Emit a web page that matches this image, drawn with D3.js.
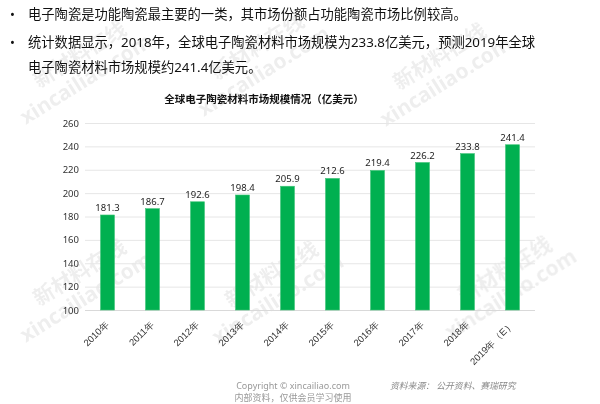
<!DOCTYPE html>
<html lang="zh">
<head>
<meta charset="UTF-8">
<title>全球电子陶瓷材料市场规模情况</title>
<script src="https://d3js.org/d3.v7.min.js"></script>
<style>
  body { margin: 0; background: #fff; }
  svg { font-family: "Noto Sans", "Noto Sans CJK SC", sans-serif; }
</style>
</head>
<body>
<div id="chart"></div>
<script>
// data
const years = ["2010年", "2011年", "2012年", "2013年", "2014年", "2015年", "2016年", "2017年", "2018年", "2019年（E）"];
const marketSize = [181.3, 186.7, 192.6, 198.4, 205.9, 212.6, 219.4, 226.2, 233.8, 241.4];
const yTicks = [100, 120, 140, 160, 180, 200, 220, 240, 260];
const bullets = [
  ["电子陶瓷是功能陶瓷最主要的一类，其市场份额占功能陶瓷市场比例较高。"],
  ["统计数据显示，2018年，全球电子陶瓷材料市场规模为233.8亿美元，预测2019年全球", "电子陶瓷材料市场规模约241.4亿美元。"]
];
const chartTitle = "全球电子陶瓷材料市场规模情况（亿美元）";
const footer = ["Copyright © xincailiao.com", "内部资料，仅供会员学习使用"];
const source = "资料来源：  公开资料、赛瑞研究";
const marks = [[80, 70], [258, 62], [440, 72], [80, 288], [272, 290], [505, 285]];

const W = 600, H = 404;
const svg = d3.select("#chart").append("svg")
    .attr("width", W)
    .attr("height", H);

// watermarks (faint)
const wm = svg.append("g").attr("fill", "#000").attr("opacity", 0.07);
marks.forEach(function (m) {
  const g = wm.append("g").attr("transform", `translate(${m[0]},${m[1]}) rotate(-32)`);
  g.append("text").attr("x", 8).attr("y", -6).attr("text-anchor", "middle")
    .attr("font-size", 21).attr("font-weight", "bold").text("新材料在线");
  g.append("text").attr("x", 0).attr("y", 18).attr("text-anchor", "middle")
    .attr("font-size", 21).attr("font-weight", "bold").text("xincailiao.com");
});

// bullet text
let lineY = 19;
bullets.forEach(function (b) {
  svg.append("text").attr("x", 10).attr("y", lineY).attr("font-size", 13).attr("fill", "#111").text("•");
  b.forEach(function (line) {
    svg.append("text").attr("x", 28).attr("y", lineY)
      .attr("font-size", 13.3).attr("fill", "#111").text(line);
    lineY += 25;
  });
  lineY += 3;
});

svg.append("text")
    .attr("x", 264).attr("y", 103)
    .attr("text-anchor", "middle")
    .attr("font-size", 10.5).attr("font-weight", "bold").attr("fill", "#111")
    .text(chartTitle);

// scales
const x = d3.scaleBand().domain(years).range([85, 535]).paddingInner(0.69).paddingOuter(0.345);
const y = d3.scaleLinear().domain([100, 260]).range([310, 123]);

// gridlines + y labels
const yAxis = svg.append("g")
    .attr("transform", "translate(85,0)")
    .call(d3.axisLeft(y).tickValues(yTicks).tickSize(-450).tickPadding(6));
yAxis.select(".domain").remove();
yAxis.selectAll(".tick line").attr("stroke", "#e6e6e6");
yAxis.selectAll(".tick text").attr("font-size", 9.5).attr("fill", "#333")
    .attr("font-family", "Noto Sans, sans-serif");
yAxis.selectAll(".tick").filter(d => d === 100).select("line").attr("stroke", "#d9d9d9");

// bars
svg.append("g").selectAll("rect")
    .data(marketSize)
    .join("rect")
    .attr("x", (d, i) => x(years[i]))
    .attr("y", d => y(d))
    .attr("width", x.bandwidth())
    .attr("height", d => y(100) - y(d))
    .attr("fill", "#00b050")
    .attr("stroke", "#3ec477")
    .attr("stroke-width", 0.6);

// value labels
svg.append("g").selectAll("text")
    .data(marketSize)
    .join("text")
    .attr("x", (d, i) => x(years[i]) + x.bandwidth() / 2)
    .attr("y", d => y(d) - 4)
    .attr("text-anchor", "middle")
    .attr("font-size", 9.5).attr("fill", "#222")
    .text(d => d.toFixed(1));

// x labels
const xAxis = svg.append("g")
    .attr("transform", "translate(0,310)")
    .call(d3.axisBottom(x).tickSize(0).tickPadding(0));
xAxis.select(".domain").remove();
xAxis.selectAll(".tick text")
    .attr("font-size", 9.5).attr("fill", "#333")
    .attr("text-anchor", "end")
    .attr("dx", -9).attr("dy", 12)
    .attr("transform", "rotate(-45)");

// footer
svg.append("g").selectAll("text")
    .data(footer)
    .join("text")
    .attr("x", 293).attr("y", (d, i) => 389 + i * 12)
    .attr("text-anchor", "middle")
    .attr("font-size", 9).attr("fill", "#999")
    .text(d => d);

svg.append("text")
    .attr("x", 390).attr("y", 389)
    .attr("font-size", 8.8).attr("fill", "#888")
    .attr("font-style", "italic")
    .text(source);
</script>
</body>
</html>
